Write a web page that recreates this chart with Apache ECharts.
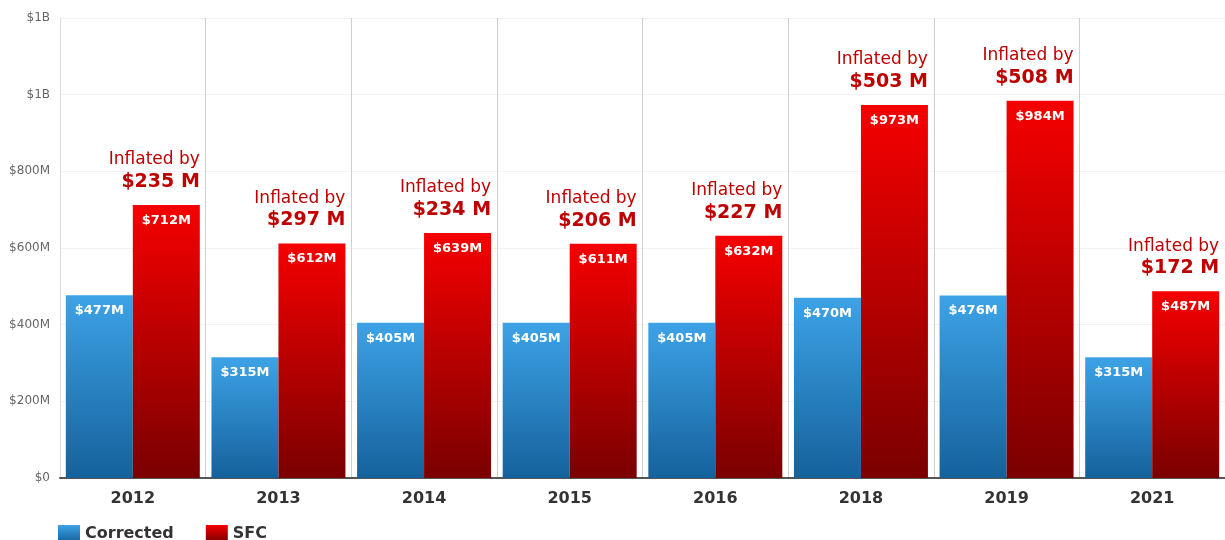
<!DOCTYPE html>
<html>
<head>
<meta charset="utf-8">
<script src="https://cdn.jsdelivr.net/npm/echarts@6/dist/echarts.min.js"></script>
<style>
  html, body { margin: 0; padding: 0; background: #fff; }
  #main { width: 1225px; height: 540px; }
</style>
</head>
<body>
<div id="main"></div>
<script>
  // values in millions of dollars
  const years = ['2012', '2013', '2014', '2015', '2016', '2018', '2019', '2021']
  const corrected = [477, 315, 405, 405, 405, 470, 476, 315]
  const sfc = [712, 612, 639, 611, 632, 973, 984, 487]
  const inflated = [235, 297, 234, 206, 227, 503, 508, 172]
  const yTicks = [0, 200, 400, 600, 800, 1000, 1200]

  const font = 'DejaVu Sans, Verdana, sans-serif'

  const chart = echarts.init(document.getElementById('main'))

  // y axis label: $0 / $200M / ... / $1B
  function money(v) {
    if (v === 0) return '$0'
    if (v >= 1000) return '$' + Math.round(v / 1000) + 'B'
    return '$' + v + 'M'
  }

  const blueGrad = new echarts.graphic.LinearGradient(0, 0, 0, 1, [
    { offset: 0, color: '#3da3e6' },
    { offset: 1, color: '#15619c' }
  ])
  const redGrad = new echarts.graphic.LinearGradient(0, 0, 0, 1, [
    { offset: 0, color: '#f60000' },
    { offset: 1, color: '#7a0000' }
  ])

  const insideLabel = {
    show: true,
    position: 'insideTop',
    distance: 9,
    color: '#fff',
    fontSize: 13,
    fontWeight: 'bold',
    fontFamily: font,
    formatter: p => '$' + p.value + 'M'
  }

  const option = {
    animation: false,
    textStyle: { fontFamily: font },
    grid: { left: 60, right: 0, top: 18, bottom: 62 },
    legend: {
      left: 53,
      top: 520,
      icon: 'rect',
      itemWidth: 22,
      itemHeight: 17,
      itemGap: 32,
      textStyle: { fontFamily: font, fontSize: 16, fontWeight: 'bold', color: '#333' },
      data: ['Corrected', 'SFC']
    },
    xAxis: [
      {
        type: 'category',
        data: years,
        axisLine: { lineStyle: { color: '#555', width: 2 } },
        axisTick: { show: false },
        splitLine: { show: true, lineStyle: { color: '#d0d0d0' } },
        axisLabel: { fontFamily: font, fontSize: 16, fontWeight: 'bold', color: '#333', margin: 13 }
      },
      // hidden twin axis, only used to place the "Inflated by" labels over the SFC bars
      { type: 'category', data: years, show: false }
    ],
    yAxis: {
      type: 'value',
      min: yTicks[0],
      max: yTicks[yTicks.length - 1],
      interval: 200,
      axisLine: { show: true, lineStyle: { color: '#ddd' } },
      axisTick: { show: false },
      splitLine: { lineStyle: { color: '#f2f2f2' } },
      axisLabel: { fontFamily: font, fontSize: 12, color: '#666', margin: 10, formatter: money }
    },
    series: [
      {
        name: 'Corrected',
        type: 'bar',
        data: corrected,
        barGap: '0%',
        barCategoryGap: '8%',
        itemStyle: { color: blueGrad },
        label: insideLabel
      },
      {
        name: 'SFC',
        type: 'bar',
        data: sfc,
        barGap: '0%',
        barCategoryGap: '8%',
        itemStyle: { color: redGrad },
        label: insideLabel
      },
      {
        name: 'spacer',
        type: 'bar',
        xAxisIndex: 1,
        data: years.map(() => 0),
        barGap: '0%',
        barCategoryGap: '8%',
        silent: true,
        itemStyle: { color: 'transparent' }
      },
      {
        name: 'inflated',
        type: 'bar',
        xAxisIndex: 1,
        barGap: '0%',
        barCategoryGap: '8%',
        z: 5,
        silent: true,
        itemStyle: { color: 'transparent' },
        data: sfc,
        label: {
          show: true,
          position: ['100%', -12],
          align: 'right',
          verticalAlign: 'bottom',
          formatter: p => '{a|Inflated by}\n{b|$' + inflated[p.dataIndex] + ' M}',
          rich: {
            a: { fontFamily: font, fontSize: 17, color: '#bf0000', lineHeight: 22, align: 'right' },
            b: { fontFamily: font, fontSize: 19, fontWeight: 'bold', color: '#bf0000', lineHeight: 22, align: 'right' }
          }
        }
      }
    ]
  }

  chart.setOption(option)
</script>
</body>
</html>
